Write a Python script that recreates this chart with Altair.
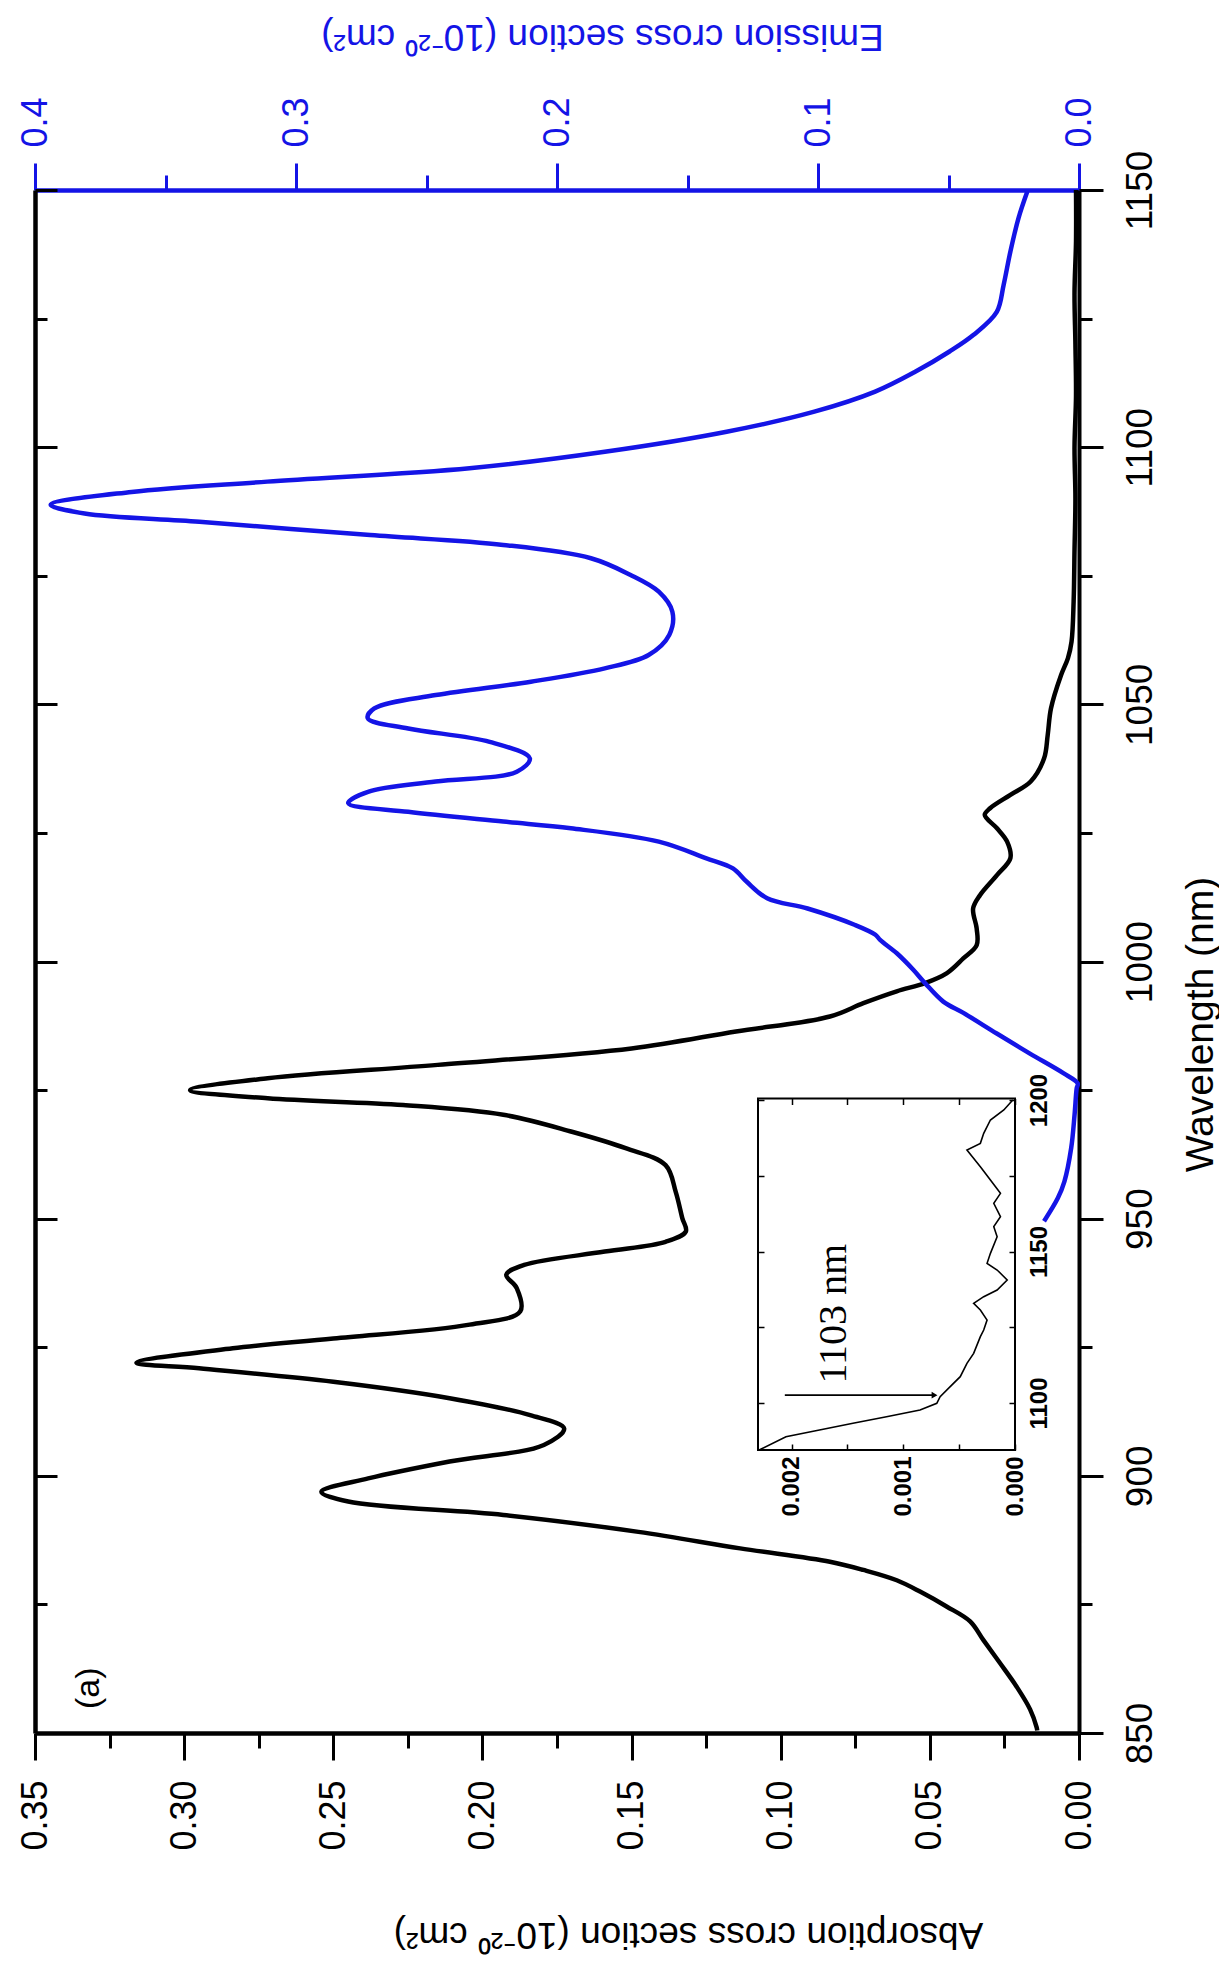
import altair as alt
import pandas as pd

# ---------------- data ----------------
# Absorption cross section (black curve), wavelength in nm, value in 1e-20 cm^2
abs_wavelength = [850.5, 851.1, 854.6, 859.0, 863.6, 868.1, 871.7, 874.6, 877.5, 879.7,
                  881.7, 883.3, 885.9, 889.1, 892.4, 895.0, 896.9, 899.5, 902.8, 906.0,
                  909.2, 911.8, 915.1, 918.3, 920.9, 922.0, 924.8, 926.7, 929.4, 932.0,
                  936.5, 939.1, 941.0, 943.6, 945.5, 947.5, 950.1, 955.2, 960.4, 963.7,
                  966.9, 970.2, 972.1, 973.4, 975.0, 977.3, 979.9, 983.1, 986.4, 989.3,
                  991.9, 994.2, 995.8, 997.7, 1000.6, 1003.2, 1006.4, 1010.3, 1012.9, 1016.8,
                  1020.1, 1023.3, 1025.9, 1028.5, 1029.8, 1032.4, 1035.0, 1039.5, 1044.0, 1049.2,
                  1055.7, 1059.0, 1062.2, 1070.0, 1080.0, 1090.0, 1100.0, 1110.0, 1120.0, 1130.0,
                  1140.0, 1150.0]
abs_cross = [0.0140, 0.0142, 0.0164, 0.0209, 0.0265, 0.0321, 0.0365, 0.0444, 0.0533, 0.0611,
             0.0723, 0.0835, 0.1136, 0.1477, 0.1930, 0.2450, 0.2540, 0.2383, 0.2110, 0.1794,
             0.1726, 0.1840, 0.2110, 0.2500, 0.2950, 0.3160, 0.2837, 0.2500, 0.2043, 0.1873,
             0.1885, 0.1920, 0.1860, 0.1590, 0.1386, 0.1318, 0.1330, 0.1352, 0.1386, 0.1520,
             0.1700, 0.1930, 0.2266, 0.2720, 0.2980, 0.2720, 0.2150, 0.1500, 0.1150, 0.0835,
             0.0723, 0.0611, 0.0516, 0.0444, 0.0388, 0.0343, 0.0343, 0.0355, 0.0332, 0.0275,
             0.0230, 0.0241, 0.0275, 0.0316, 0.0298, 0.0230, 0.0162, 0.0117, 0.0105, 0.0094,
             0.0060, 0.0037, 0.0025, 0.0018, 0.0015, 0.0012, 0.0015, 0.0010, 0.0012, 0.0015,
             0.0010, 0.0010]

# Emission cross section (blue curve)
em_wavelength = [949.5, 954.0, 957.2, 963.7, 970.2, 975.3, 976.3, 978.3, 982.1, 986.0,
                 990.0, 992.2, 995.8, 998.4, 1001.6, 1004.2, 1005.2, 1007.1, 1010.3, 1012.3,
                 1015.5, 1018.1, 1020.1, 1023.3, 1025.9, 1027.2, 1029.1, 1030.8, 1033.0, 1035.0,
                 1036.9, 1039.5, 1042.7, 1045.3, 1047.3, 1049.2, 1051.8, 1054.4, 1057.0, 1059.6,
                 1063.5, 1068.0, 1071.9, 1075.2, 1078.4, 1081.0, 1082.9, 1085.5, 1087.1, 1088.8,
                 1091.3, 1093.3, 1095.9, 1099.1, 1103.0, 1106.9, 1110.8, 1114.7, 1118.6, 1121.8,
                 1126.3, 1131.5, 1138.0, 1144.5, 1149.7]
em_cross = [0.0134, 0.0081, 0.0056, 0.0030, 0.0017, 0.0009, 0.0005, 0.0060, 0.0188, 0.0315,
            0.0443, 0.0520, 0.0590, 0.0635, 0.0698, 0.0762, 0.0780, 0.0858, 0.1040, 0.1195,
            0.1273, 0.1326, 0.1430, 0.1610, 0.1947, 0.2206, 0.2570, 0.2800, 0.2724, 0.2465,
            0.2154, 0.2104, 0.2258, 0.2570, 0.2725, 0.2700, 0.2465, 0.2100, 0.1817, 0.1649,
            0.1570, 0.1558, 0.1610, 0.1720, 0.1870, 0.2206, 0.2716, 0.3370, 0.3810, 0.3940,
            0.3630, 0.3110, 0.2335, 0.1817, 0.1350, 0.1014, 0.0781, 0.0626, 0.0496, 0.0405,
            0.0315, 0.0289, 0.0263, 0.0232, 0.0198]

# Inset: long-wavelength tail of absorption
inset_wavelength = [1084.5, 1088.9, 1091.1, 1093.3, 1095.5, 1097.7, 1099.9, 1102.1, 1105.4, 1108.7,
                    1113.1, 1116.4, 1121.9, 1124.1, 1127.4, 1130.7, 1132.9, 1135.1, 1137.3, 1140.6,
                    1143.9, 1146.1, 1149.4, 1154.9, 1158.2, 1161.5, 1165.9, 1169.2, 1173.6, 1178.0,
                    1183.5, 1185.7, 1189.0, 1193.4, 1196.7, 1200.0]
inset_cross = [0.00229, 0.00205, 0.00175, 0.00145, 0.00115, 0.00085, 0.00070, 0.00067, 0.00058, 0.00049,
               0.00043, 0.00037, 0.00031, 0.00028, 0.00025, 0.00031, 0.00037, 0.00028, 0.00016, 0.00007,
               0.00016, 0.00025, 0.00022, 0.00016, 0.00019, 0.00013, 0.00019, 0.00013, 0.00022, 0.00031,
               0.00043, 0.00031, 0.00028, 0.00022, 0.00010, 0.00002]

# axis ticks
wl_major = [850, 900, 950, 1000, 1050, 1100, 1150]
wl_minor = [875, 925, 975, 1025, 1075, 1125]
abs_major = [0.0, 0.05, 0.10, 0.15, 0.20, 0.25, 0.30, 0.35]
abs_minor = [0.025, 0.075, 0.125, 0.175, 0.225, 0.275, 0.325]
em_major = [0.0, 0.1, 0.2, 0.3, 0.4]
em_minor = [0.05, 0.15, 0.25, 0.35]
inset_val_ticks = [0.0, 0.0005, 0.001, 0.0015, 0.002]
inset_val_labels = [0.0, 0.001, 0.002]
inset_wl_ticks = [1100, 1125, 1150, 1175, 1200]
inset_wl_labels = [1100, 1150, 1200]

# domains
WL_DOMAIN = [850, 1150]
ABS_DOMAIN = [0, 0.35]
EM_DOMAIN = [0, 0.4]
INSET_VAL_DOMAIN = [0, 0.0023]
INSET_WL_DOMAIN = [1084.5, 1200.5]

# annotations (data coordinates)
panel_label = {"a": [0.332], "wl": [858.7], "t": ["(a)"]}
arrow = {"v1": [0.00206], "v2": [0.00072], "wl": [1102.6]}
inset_text = {"v": [0.00162], "wl": [1129.5], "t": ["1103 nm"]}

ABS_TITLE = "Absorption cross section (10\u207b\u00b2\u2070 cm\u00b2)"
EM_TITLE = "Emission cross section (10\u207b\u00b2\u2070 cm\u00b2)"

# ---------------- layout ----------------
W, H = 1044, 1543
BLUE = "#1414E6"
FONT = "Liberation Sans"

abs_df = pd.DataFrame({"wl": abs_wavelength, "a": abs_cross})
em_df = pd.DataFrame({"wl": em_wavelength, "e": em_cross})
ins_df = pd.DataFrame({"wl": inset_wavelength, "v": inset_cross})
frame_df = pd.DataFrame({"x0": [INSET_VAL_DOMAIN[0]], "x1": [INSET_VAL_DOMAIN[1]],
                         "y0": [INSET_WL_DOMAIN[0]], "y1": [INSET_WL_DOMAIN[1]]})

wl_scale = alt.Scale(domain=WL_DOMAIN, nice=False, zero=False)
abs_scale = alt.Scale(domain=ABS_DOMAIN, reverse=True, nice=False, zero=False)
em_scale = alt.Scale(domain=EM_DOMAIN, reverse=True, nice=False, zero=False)
ins_x_scale = alt.Scale(domain=INSET_VAL_DOMAIN, range=[980, 723], nice=False, zero=False)
ins_y_scale = alt.Scale(domain=INSET_WL_DOMAIN, range=[1260, 908.5], nice=False, zero=False)


def ax(**kw):
    base = dict(grid=False, labelFlush=False, labelOverlap=False, labelBound=False,
                labelFont=FONT, titleFont=FONT, title=None)
    base.update(kw)
    return alt.Axis(**base)


abs_major_axis = ax(orient="bottom", values=abs_major, format=".2f", labelAngle=270,
                    labelAlign="right", labelBaseline="middle", labelFontSize=36,
                    labelColor="black", labelPadding=20, tickSize=27, tickWidth=3,
                    tickColor="black", domainColor="black", domainWidth=4.5,
                    title=ABS_TITLE, titleFontSize=37, titleFontWeight="normal",
                    titleColor="black", titleAngle=180, titleAlign="center",
                    titleBaseline="middle", titleX=653, titleY=200)
abs_minor_axis = ax(orient="bottom", values=abs_minor, labels=False, tickSize=15,
                    tickWidth=3, tickColor="black", domain=False)

em_major_axis = ax(orient="top", values=em_major, format=".1f", labelAngle=270,
                   labelAlign="left", labelBaseline="middle", labelFontSize=36,
                   labelColor=BLUE, labelPadding=16, tickSize=27, tickWidth=3,
                   tickColor=BLUE, domainColor=BLUE, domainWidth=4.5,
                   title=EM_TITLE, titleFontSize=37, titleFontWeight="normal",
                   titleColor=BLUE, titleAngle=180, titleAlign="center",
                   titleBaseline="middle", titleX=567, titleY=-155)
em_minor_axis = ax(orient="top", values=em_minor, labels=False, tickSize=15,
                   tickWidth=3, tickColor=BLUE, domain=False)

wl_right_major = ax(orient="right", values=wl_major, format="d", labelAngle=270,
                    labelAlign="center", labelBaseline="top", labelFontSize=37,
                    labelColor="black", labelPadding=19, tickSize=24, tickWidth=3,
                    tickColor="black", domainColor="black", domainWidth=4,
                    title="Wavelength (nm)", titleFontSize=39, titleFontWeight="normal",
                    titleColor="black", titleAngle=270, titleAlign="center",
                    titleBaseline="middle", titleX=121, titleY=834)
wl_right_minor = ax(orient="right", values=wl_minor, labels=False, tickSize=13,
                    tickWidth=3, tickColor="black", domain=False)
wl_left_major = ax(orient="right", offset=-W, values=wl_major, labels=False, tickSize=22,
                   tickWidth=3, tickColor="black", domainColor="black", domainWidth=4.5)
wl_left_minor = ax(orient="right", offset=-W, values=wl_minor, labels=False, tickSize=12,
                   tickWidth=3, tickColor="black", domain=False)

ins_x_labels = ax(orient="bottom", offset=1260 - H, values=inset_val_labels, format=".3f",
                  ticks=False, domain=False, labelAngle=270, labelAlign="right",
                  labelBaseline="middle", labelFontSize=24, labelFontWeight="bold",
                  labelColor="black", labelPadding=6)
ins_y_labels = ax(orient="right", offset=980 - W, values=inset_wl_labels, format="d",
                  ticks=False, domain=False, labelAngle=270, labelAlign="center",
                  labelBaseline="top", labelFontSize=24, labelFontWeight="bold",
                  labelColor="black", labelPadding=12)
ins_x_ticks_bottom = ax(orient="top", offset=-1260, values=inset_val_ticks, labels=False,
                        tickSize=6, tickWidth=1.5, tickColor="black", domain=False)
ins_x_ticks_top = ax(orient="bottom", offset=908.5 - H, values=inset_val_ticks, labels=False,
                     tickSize=6, tickWidth=1.5, tickColor="black", domain=False)
ins_y_ticks_right = ax(orient="left", offset=-980, values=inset_wl_ticks, labels=False,
                       tickSize=6, tickWidth=1.5, tickColor="black", domain=False)
ins_y_ticks_left = ax(orient="right", offset=723 - W, values=inset_wl_ticks, labels=False,
                      tickSize=6, tickWidth=1.5, tickColor="black", domain=False)

# ---------------- layers ----------------
abs_line = alt.Chart(abs_df).mark_line(
    color="black", strokeWidth=4.5, interpolate="catmull-rom"
).encode(
    x=alt.X("a:Q", scale=abs_scale, axis=abs_major_axis),
    y=alt.Y("wl:Q", scale=wl_scale, axis=wl_right_major),
    order=alt.Order("wl:Q"),
)
em_line = alt.Chart(em_df).mark_line(
    color=BLUE, strokeWidth=4.5, interpolate="catmull-rom"
).encode(
    x=alt.X("e:Q", scale=em_scale, axis=em_major_axis),
    y=alt.Y("wl:Q", scale=wl_scale, axis=wl_right_minor),
    order=alt.Order("wl:Q"),
)
abs_ghost = alt.Chart(abs_df).mark_point(opacity=0, size=1).encode(
    x=alt.X("a:Q", scale=abs_scale, axis=abs_minor_axis),
    y=alt.Y("wl:Q", scale=wl_scale, axis=wl_left_major),
)
em_ghost = alt.Chart(em_df).mark_point(opacity=0, size=1).encode(
    x=alt.X("e:Q", scale=em_scale, axis=em_minor_axis),
    y=alt.Y("wl:Q", scale=wl_scale, axis=wl_left_minor),
)
label_a = alt.Chart(pd.DataFrame(panel_label)).mark_text(
    angle=270, fontSize=34, font=FONT, align="center", baseline="middle", color="black"
).encode(
    x=alt.X("a:Q", scale=abs_scale, axis=None),
    y=alt.Y("wl:Q", scale=wl_scale, axis=None),
    text="t:N",
)

inset_line = alt.Chart(ins_df).mark_line(color="black", strokeWidth=1.6).encode(
    x=alt.X("v:Q", scale=ins_x_scale, axis=ins_x_labels),
    y=alt.Y("wl:Q", scale=ins_y_scale, axis=ins_y_labels),
    order=alt.Order("wl:Q"),
)
inset_ghost1 = alt.Chart(ins_df).mark_point(opacity=0, size=1).encode(
    x=alt.X("v:Q", scale=ins_x_scale, axis=ins_x_ticks_bottom),
    y=alt.Y("wl:Q", scale=ins_y_scale, axis=ins_y_ticks_right),
)
inset_ghost2 = alt.Chart(ins_df).mark_point(opacity=0, size=1).encode(
    x=alt.X("v:Q", scale=ins_x_scale, axis=ins_x_ticks_top),
    y=alt.Y("wl:Q", scale=ins_y_scale, axis=ins_y_ticks_left),
)
inset_frame = alt.Chart(frame_df).mark_rect(fillOpacity=0, stroke="black", strokeWidth=2).encode(
    x=alt.X("x0:Q", scale=ins_x_scale, axis=None),
    x2="x1:Q",
    y=alt.Y("y0:Q", scale=ins_y_scale, axis=None),
    y2="y1:Q",
)
arrow_df = pd.DataFrame(arrow)
arrow_rule = alt.Chart(arrow_df).mark_rule(color="black", strokeWidth=1.6).encode(
    x=alt.X("v1:Q", scale=ins_x_scale, axis=None),
    x2="v2:Q",
    y=alt.Y("wl:Q", scale=ins_y_scale, axis=None),
)
arrow_head = alt.Chart(arrow_df).mark_point(
    shape="triangle-right", filled=True, color="black", size=45, opacity=1
).encode(
    x=alt.X("v2:Q", scale=ins_x_scale, axis=None),
    y=alt.Y("wl:Q", scale=ins_y_scale, axis=None),
)
inset_label = alt.Chart(pd.DataFrame(inset_text)).mark_text(
    angle=270, fontSize=40, font="Liberation Serif", align="center", baseline="middle",
    color="black"
).encode(
    x=alt.X("v:Q", scale=ins_x_scale, axis=None),
    y=alt.Y("wl:Q", scale=ins_y_scale, axis=None),
    text="t:N",
)

chart = alt.layer(
    abs_ghost, em_ghost, abs_line, em_line, label_a,
    inset_frame, inset_ghost1, inset_ghost2, inset_line, arrow_rule, arrow_head, inset_label,
).resolve_scale(
    x="independent", y="independent"
).resolve_axis(
    x="independent", y="independent"
).properties(
    width=W, height=H,
    autosize=alt.AutoSizeParams(type="none"),
    padding={"left": 35, "top": 190, "right": 1219 - 35 - W, "bottom": 1977 - 190 - H},
    background="white",
).configure_view(strokeWidth=0)

chart.save("out.html", embed_options={"renderer": "svg", "actions": False})
